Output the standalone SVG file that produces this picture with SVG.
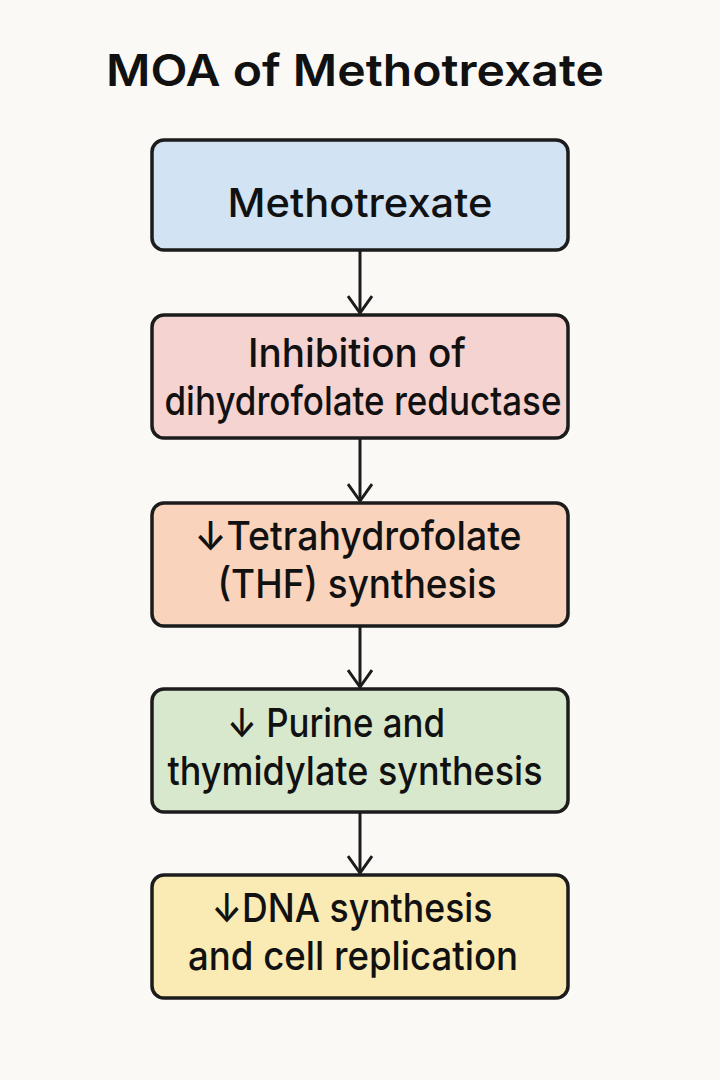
<svg xmlns="http://www.w3.org/2000/svg" width="720" height="1080" viewBox="0 0 720 1080">
<defs>
<style>
.bg{fill:#fbf9f6}
.box{stroke:#1c1c1c;stroke-width:3.5}
.t{font-family:Inter,"Noto Sans","Liberation Sans",sans-serif;font-weight:500;font-size:40px;fill:#111;text-anchor:middle}
.title{font-family:Inter,"Noto Sans","Liberation Sans",sans-serif;font-weight:600;font-size:44px;fill:#111;text-anchor:middle}
.c{stroke:#1c1c1c;stroke-width:3;fill:none}
</style>
<marker id="ah" markerWidth="24" markerHeight="26" viewBox="0 0 20 26" refX="18" refY="13" orient="auto" markerUnits="userSpaceOnUse">
<path d="M1,1 L18,13 L1,25" fill="none" stroke="#1c1c1c" stroke-width="3" stroke-linejoin="miter"/>
</marker>
</defs>
<rect class="bg" x="0" y="0" width="720" height="1080"/>
<g id="title"><text class="title" x="355" y="86" textLength="498" lengthAdjust="spacingAndGlyphs">MOA of Methotrexate</text></g>
<g id="connectors">
<line class="c" x1="360" y1="251" x2="360" y2="313" marker-end="url(#ah)"/>
<line class="c" x1="360" y1="439" x2="360" y2="501" marker-end="url(#ah)"/>
<line class="c" x1="360" y1="627" x2="360" y2="687" marker-end="url(#ah)"/>
<line class="c" x1="360" y1="813" x2="360" y2="873" marker-end="url(#ah)"/>
</g>
<g id="n1"><rect class="box" x="152" y="140" width="416" height="110" rx="12" fill="#d2e3f3"/>
<text class="t" x="360" y="217" textLength="265" lengthAdjust="spacingAndGlyphs">Methotrexate</text></g>
<g id="n2"><rect class="box" x="152" y="315" width="416" height="123" rx="12" fill="#f5d3d0"/>
<text class="t" x="357" y="367" textLength="218" lengthAdjust="spacingAndGlyphs">Inhibition of</text>
<text class="t" x="363" y="415" textLength="397" lengthAdjust="spacingAndGlyphs">dihydrofolate reductase</text></g>
<g id="n3"><rect class="box" x="152" y="503" width="416" height="123" rx="12" fill="#f9d3bc"/>
<text class="t" x="358" y="550" textLength="327" lengthAdjust="spacingAndGlyphs">↓Tetrahydrofolate</text>
<text class="t" x="357" y="598" textLength="279" lengthAdjust="spacingAndGlyphs">(THF) synthesis</text></g>
<g id="n4"><rect class="box" x="152" y="689" width="416" height="123" rx="12" fill="#d8e8cc"/>
<text class="t" x="336" y="737" textLength="218" lengthAdjust="spacingAndGlyphs">↓ Purine and</text>
<text class="t" x="355" y="785" textLength="375" lengthAdjust="spacingAndGlyphs">thymidylate synthesis</text></g>
<g id="n5"><rect class="box" x="152" y="875" width="416" height="123" rx="12" fill="#faeab3"/>
<text class="t" x="352" y="922" textLength="281" lengthAdjust="spacingAndGlyphs">↓DNA synthesis</text>
<text class="t" x="353" y="970" textLength="330" lengthAdjust="spacingAndGlyphs">and cell replication</text></g>
</svg>
